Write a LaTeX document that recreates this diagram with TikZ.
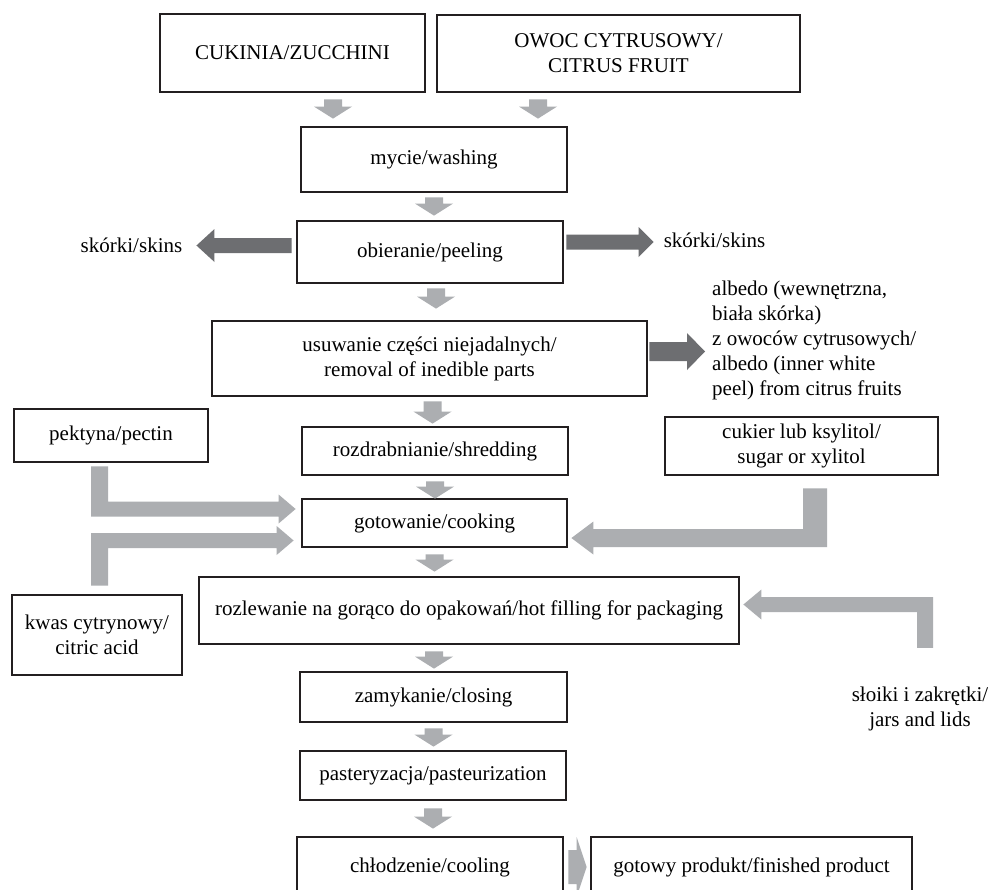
\documentclass[tikz,border=0pt]{standalone}
\usepackage{fontspec}
\setmainfont{Liberation Serif}
\usetikzlibrary{calc}
\definecolor{lg}{RGB}{172,174,177}
\definecolor{dg}{RGB}{109,110,113}
\definecolor{bk}{RGB}{35,31,32}
\begin{document}
\begin{tikzpicture}[x=1pt,y=-1pt,
  font=\fontsize{21pt}{25pt}\selectfont,
  box/.style={draw=bk,line width=2.8pt,inner sep=0pt,align=center,fill=white},
  lbl/.style={inner sep=0pt,align=center},
  bdown/.style={to path={let \p1=(\tikztostart),\p2=(\tikztotarget) in
     (\x1-9pt,\y1) -- (\x1+9pt,\y1) -- (\x1+9pt,\y2+12pt) -- (\x1+19pt,\y2+12pt)
     -- (\x1,\y2) -- (\x1-19pt,\y2+12pt) -- (\x1-9pt,\y2+12pt) -- cycle}},
  bright/.style n args={3}{to path={let \p1=(\tikztostart),\p2=(\tikztotarget) in
     (\x1,\y1+#1) -- (\x2-#3,\y1+#1) -- (\x2-#3,\y1+#2) -- (\x2,\y1)
     -- (\x2-#3,\y1-#2) -- (\x2-#3,\y1-#1) -- (\x1,\y1-#1) -- cycle}},
  bleft/.style n args={3}{to path={let \p1=(\tikztostart),\p2=(\tikztotarget) in
     (\x1,\y1+#1) -- (\x2+#3,\y1+#1) -- (\x2+#3,\y1+#2) -- (\x2,\y1)
     -- (\x2+#3,\y1-#2) -- (\x2+#3,\y1-#1) -- (\x1,\y1-#1) -- cycle}}
]
\fill[white] (0,0) rectangle (995,889);
\useasboundingbox (0,0) rectangle (995,889);

% boxes
\node[box,minimum width=265pt,minimum height=78pt] (cuk) at (292.5,53) {CUKINIA/ZUCCHINI};
\node[box,minimum width=363pt,minimum height=77pt] (owoc) at (618.5,53.5) {OWOC CYTRUSOWY/\\CITRUS FRUIT};
\node[box,minimum width=266pt,minimum height=65pt] (mycie) at (434,159.5) {mycie/washing};
\node[box,minimum width=266pt,minimum height=62pt] (obier) at (430,252) {obieranie/peeling};
\node[box,minimum width=435pt,minimum height=75pt] (usuw) at (429.5,358.5) {usuwanie części niejadalnych/\\removal of inedible parts};
\node[box,minimum width=266pt,minimum height=48pt] (rozdr) at (435,451) {rozdrabnianie/shredding};
\node[box,minimum width=265pt,minimum height=48pt] (goto) at (434.5,523) {gotowanie/cooking};
\node[box,minimum width=540pt,minimum height=67pt] (rozl) at (469,610.5) {rozlewanie na gorąco do opakowań/hot filling for packaging};
\node[box,minimum width=267pt,minimum height=50pt] (zam) at (433.5,697) {zamykanie/closing};
\node[box,minimum width=266pt,minimum height=49pt] (past) at (433,775.5) {pasteryzacja/pasteurization};
\node[box,minimum width=266pt,minimum height=60pt] (cool) at (430,867) {chłodzenie/cooling};
\node[box,minimum width=321pt,minimum height=60pt] (gotowy) at (751.5,867) {gotowy produkt/finished product};
\node[box,minimum width=194pt,minimum height=53pt] (pekt) at (111,435.5) {pektyna/pectin};
\node[box,minimum width=170pt,minimum height=80pt] (kwas) at (97,635) {kwas cytrynowy/\\citric acid};
\node[box,minimum width=273pt,minimum height=58pt] (cukier) at (801.5,446) {cukier lub ksylitol/\\sugar or xylitol};

% free labels
\node[lbl] (skL) at (131.5,245) {skórki/skins};
\node[lbl] (skR) at (714.5,240) {skórki/skins};
\node[lbl,anchor=west,align=left] (alb) at (712,340) {albedo (wewnętrzna,\\biała skórka)\\z owoców cytrusowych/\\albedo (inner white\\peel) from citrus fruits};
\node[lbl] (jars) at (920,709) {słoiki i zakrętki/\\jars and lids};

% light grey down arrows
\fill[lg] ([xshift=40.5pt,yshift=-6pt]cuk.south) to[bdown] ([yshift=7pt]mycie.north);
\fill[lg] ([xshift=-80.5pt,yshift=-6pt]owoc.south) to[bdown] ([yshift=7pt]mycie.north);
\fill[lg] ([yshift=-4pt]mycie.south) to[bdown] ([yshift=4pt]obier.north);
\fill[lg] ([xshift=6pt,yshift=-4pt]obier.south) to[bdown] ([yshift=11pt]usuw.north);
\fill[lg] ([xshift=3pt,yshift=-4pt]usuw.south) to[bdown] ([yshift=2pt]rozdr.north);
\fill[lg] ([yshift=-5pt]rozdr.south) to[bdown] ([yshift=-1pt]goto.north);
\fill[lg] ([yshift=-6pt]goto.south) to[bdown] ([yshift=4pt]rozl.north);
\fill[lg] ([xshift=-35pt,yshift=-6pt]rozl.south) to[bdown] ([yshift=2pt]zam.north);
\fill[lg] ([yshift=-5pt]zam.south) to[bdown] ([yshift=3pt]past.north);
\fill[lg] ([yshift=-7pt]past.south) to[bdown] ([yshift=7pt]cool.north);
\fill[lg] ([xshift=4pt]cool.east) to[bright={17pt}{30pt}{10pt}] ([xshift=-3pt]gotowy.west);

% dark grey side arrows
\fill[dg] ([xshift=-4pt,yshift=6.5pt]obier.west) to[bleft={7.5pt}{16.5pt}{18pt}] ([xshift=14pt]skL.east);
\fill[dg] ([xshift=2pt,yshift=10pt]obier.east) to[bright={7.5pt}{15pt}{15pt}] ([xshift=-10pt]skR.west);
\fill[dg] ([xshift=1pt,yshift=7pt]usuw.east) to[bright={9.5pt}{18.5pt}{18pt}] ([xshift=-7pt]alb.west);

% elbow arrows
\fill[lg] let \p1=([xshift=-11.5pt,yshift=-3pt]pekt.south), \p2=([xshift=-5pt,yshift=14pt]goto.west) in
  (\x1-8.5pt,\y1) -- (\x1+8.5pt,\y1) -- (\x1+8.5pt,\y2+7.5pt) -- (\x2-17pt,\y2+7.5pt)
  -- (\x2-17pt,\y2+14.5pt) -- (\x2,\y2) -- (\x2-17pt,\y2-14.5pt) -- (\x2-17pt,\y2-7.5pt)
  -- (\x1-8.5pt,\y2-7.5pt) -- cycle;
\fill[lg] let \p1=([xshift=2.5pt,yshift=8pt]kwas.north), \p2=([xshift=-7pt,yshift=-17.5pt]goto.west) in
  (\x1-8.5pt,\y1) -- (\x1-8.5pt,\y2+7.5pt) -- (\x2-17pt,\y2+7.5pt) -- (\x2-17pt,\y2+14.5pt)
  -- (\x2,\y2) -- (\x2-17pt,\y2-14.5pt) -- (\x2-17pt,\y2-7.5pt) -- (\x1+8.5pt,\y2-7.5pt)
  -- (\x1+8.5pt,\y1) -- cycle;
\fill[lg] let \p1=([xshift=13.5pt,yshift=-12pt]cukier.south), \p2=([xshift=3pt,yshift=-15pt]goto.east) in
  (\x1-12pt,\y1) -- (\x1+12pt,\y1) -- (\x1+12pt,\y2-9pt) -- (\x2+22pt,\y2-9pt)
  -- (\x2+22pt,\y2-16.5pt) -- (\x2,\y2) -- (\x2+22pt,\y2+16.5pt) -- (\x2+22pt,\y2+9pt)
  -- (\x1-12pt,\y2+9pt) -- cycle;
\fill[lg] let \p1=([xshift=5pt,yshift=39pt]jars.north), \p2=([xshift=3pt,yshift=6pt]rozl.east) in
  (\x1+8pt,\y1) -- (\x1-8pt,\y1) -- (\x1-8pt,\y2-7.5pt) -- (\x2+18pt,\y2-7.5pt)
  -- (\x2+18pt,\y2-15pt) -- (\x2,\y2) -- (\x2+18pt,\y2+15pt) -- (\x2+18pt,\y2+7.5pt)
  -- (\x1+8pt,\y2+7.5pt) -- cycle;
\end{tikzpicture}
\end{document}
